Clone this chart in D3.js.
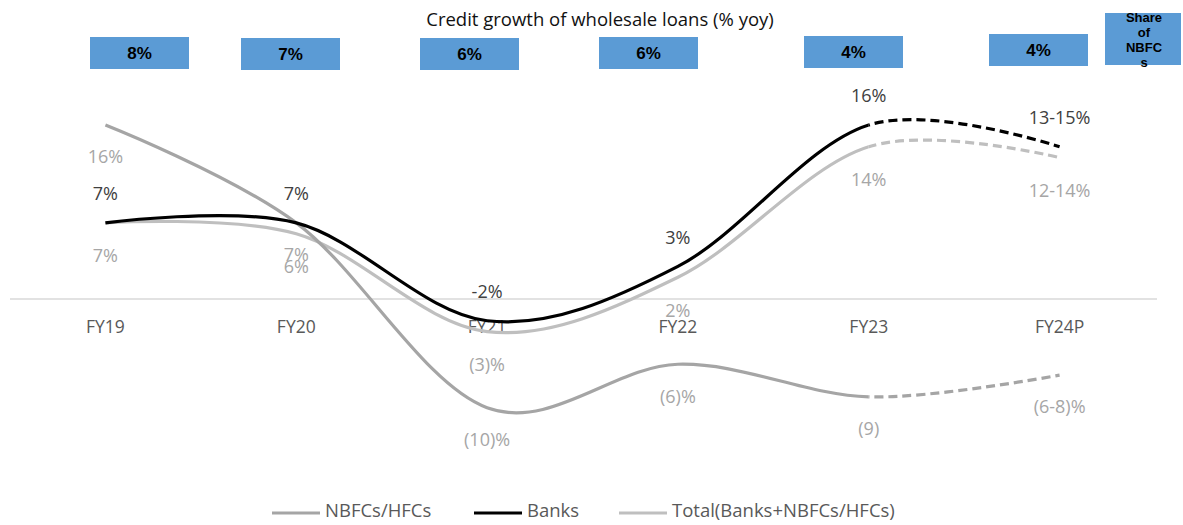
<!DOCTYPE html>
<html>
<head>
<meta charset="utf-8">
<script src="https://cdn.jsdelivr.net/npm/d3@7"></script>
<style>
  html, body { margin: 0; padding: 0; background: #ffffff; }
  svg { display: block; }
</style>
</head>
<body>
<svg id="chart" width="1183" height="525"></svg>
<script>
// Fiscal years on the category axis
const years = ["FY19", "FY20", "FY21", "FY22", "FY23", "FY24P"];

// Credit growth, % yoy (FY24P is the midpoint of the projected range)
const nbfcValues  = [16, 7, -10, -6, -9, -7];
const bankValues  = [7, 7, -2, 3, 16, 14];
const totalValues = [7, 6, -3, 2, 14, 13];

// Data labels as printed
const nbfcLabels  = ["16%", "7%", "(10)%", "(6)%", "(9)", "(6-8)%"];
const bankLabels  = ["7%", "7%", "-2%", "3%", "16%", "13-15%"];
const totalLabels = ["7%", "6%", "(3)%", "2%", "14%", "12-14%"];

// Share of NBFCs in wholesale credit
const nbfcShare = ["8%", "7%", "6%", "6%", "4%", "4%"];

// Index from which the series are projections (drawn dashed)
const projectedFrom = 4;

const svg = d3.select("#chart");
const W = 1183, H = 525;
const font = "'Open Sans', sans-serif";

const x = d3.scaleBand().domain(years).range([10, 1155]);
const cx = d => x(d) + x.bandwidth() / 2;
const y = d3.scaleLinear().domain([-12, 18]).range([429.5, 103.25]);

// Title
svg.append("text")
  .attr("x", 600).attr("y", 26)
  .attr("text-anchor", "middle")
  .attr("font-family", font).attr("font-size", 18.5)
  .attr("fill", "#111")
  .text("Credit growth of wholesale loans (% yoy)");

// Share-of-NBFC boxes above each year
const boxTops = [37, 38, 38, 37, 36, 34];
const boxCenters = [139.5, 290.5, 469.5, 648.5, 853.5, 1038.5];
const boxes = svg.append("g");
nbfcShare.forEach((s, i) => {
  boxes.append("rect")
    .attr("x", boxCenters[i] - 49.5).attr("y", boxTops[i])
    .attr("width", 99).attr("height", 32)
    .attr("fill", "#5b9bd5");
  boxes.append("text")
    .attr("x", boxCenters[i]).attr("y", boxTops[i] + 22)
    .attr("text-anchor", "middle")
    .attr("font-family", "'Liberation Sans', Arial, sans-serif")
    .attr("font-weight", "bold").attr("font-size", 17)
    .attr("fill", "#000")
    .text(s);
});

// Caption box for the share row
boxes.append("rect")
  .attr("x", 1105).attr("y", 13).attr("width", 76).attr("height", 52)
  .attr("fill", "#5b9bd5");
const caption = ["Share", "of", "NBFC", "s"];
caption.forEach((t, i) => {
  boxes.append("text")
    .attr("x", 1144).attr("y", 22 + i * 15)
    .attr("text-anchor", "middle")
    .attr("font-family", "'Liberation Sans', Arial, sans-serif")
    .attr("font-weight", "bold").attr("font-size", 13)
    .attr("fill", "#000")
    .text(t);
});

// Zero line
svg.append("line")
  .attr("x1", 10).attr("x2", 1157)
  .attr("y1", y(0)).attr("y2", y(0))
  .attr("stroke", "#d9d9d9").attr("stroke-width", 1.5);

// Category axis labels
const xAxis = svg.append("g")
  .attr("transform", `translate(0,${y(0)})`)
  .call(d3.axisBottom(x).tickSize(0).tickPadding(22));
xAxis.select(".domain").remove();
xAxis.selectAll("text")
  .attr("font-family", font).attr("font-size", 17.5)
  .attr("fill", "#595959");

// Clip regions: actuals solid, projections dashed
const splitX = cx(years[projectedFrom]);
const defs = svg.append("defs");
defs.append("clipPath").attr("id", "clipActual")
  .append("rect").attr("x", 0).attr("y", 0).attr("width", splitX).attr("height", H);
defs.append("clipPath").attr("id", "clipProjected")
  .append("rect").attr("x", splitX).attr("y", 0).attr("width", W - splitX).attr("height", H);

const line = d3.line()
  .x((d, i) => cx(years[i]))
  .y(d => y(d))
  .curve(d3.curveCardinal.tension(0));

const series = [
  { name: "Total(Banks+NBFCs/HFCs)", values: totalValues, color: "#bfbfbf" },
  { name: "NBFCs/HFCs", values: nbfcValues, color: "#a5a5a5" },
  { name: "Banks", values: bankValues, color: "#000000" }
];

const lines = svg.append("g");
series.forEach(s => {
  lines.append("path")
    .attr("d", line(s.values))
    .attr("fill", "none").attr("stroke", s.color).attr("stroke-width", 3.2)
    .attr("clip-path", "url(#clipActual)");
  lines.append("path")
    .attr("d", line(s.values))
    .attr("fill", "none").attr("stroke", s.color).attr("stroke-width", 3.2)
    .attr("stroke-dasharray", "9,5")
    .attr("clip-path", "url(#clipProjected)");
});

// Data labels: banks above the line, others below
const labels = svg.append("g")
  .attr("font-family", font).attr("font-size", 18)
  .attr("text-anchor", "middle");
function addLabels(values, texts, color, offset) {
  values.forEach((v, i) => {
    labels.append("text")
      .attr("x", cx(years[i])).attr("y", y(v) + offset)
      .attr("dy", "0.35em")
      .attr("fill", color)
      .text(texts[i]);
  });
}
addLabels(bankValues, bankLabels, "#404040", -29);
addLabels(totalValues, totalLabels, "#a6a6a6", 33);
addLabels(nbfcValues, nbfcLabels, "#a6a6a6", 32);

// Legend
const legendItems = [
  { name: "NBFCs/HFCs", color: "#a5a5a5", x: 272 },
  { name: "Banks", color: "#000000", x: 474 },
  { name: "Total(Banks+NBFCs/HFCs)", color: "#bfbfbf", x: 619 }
];
const legendY = 511;
const legend = svg.append("g");
legendItems.forEach(it => {
  legend.append("line")
    .attr("x1", it.x).attr("x2", it.x + 48)
    .attr("y1", legendY + 2).attr("y2", legendY + 2)
    .attr("stroke", it.color).attr("stroke-width", 3.2);
  legend.append("text")
    .attr("x", it.x + 53).attr("y", legendY).attr("dy", "0.35em")
    .attr("font-family", font).attr("font-size", 18.5)
    .attr("fill", "#595959")
    .text(it.name);
});
</script>
</body>
</html>
